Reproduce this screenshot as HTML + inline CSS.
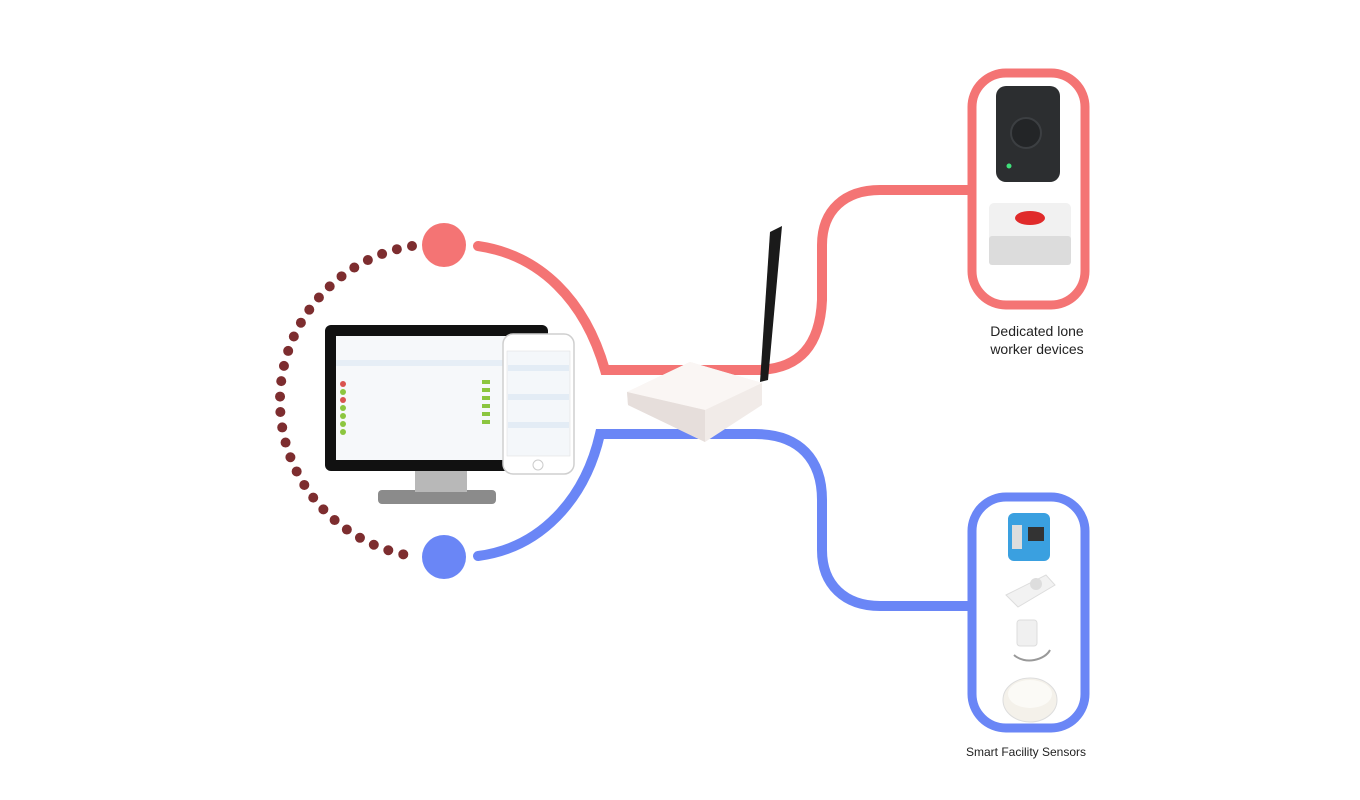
<!DOCTYPE html>
<html><head><meta charset="utf-8"><style>
html,body{margin:0;padding:0;background:#fff;width:1360px;height:800px;overflow:hidden}
</style></head><body>
<svg width="1360" height="800" viewBox="0 0 1360 800" xmlns="http://www.w3.org/2000/svg" font-family="Liberation Sans, sans-serif">
<!-- dotted arc -->
<path d="M412,246 A157,157 0 0 0 412,556" fill="none" stroke="#7d2d2f" stroke-width="10" stroke-linecap="round" stroke-dasharray="0 15.5"/>
<!-- red line -->
<path d="M478,246 C540,255 585,300 605,370 L755,370 C800,370 820,345 822,300 L822,245 C822,210 845,190 880,190 L970,190" fill="none" stroke="#f47474" stroke-width="10" stroke-linecap="round"/>
<!-- blue line -->
<path d="M478,556 C540,548 585,500 600,434 L755,434 C800,434 822,460 822,500 L822,550 C822,585 845,606 880,606 L970,606" fill="none" stroke="#6a86f6" stroke-width="10" stroke-linecap="round"/>
<circle cx="444" cy="245" r="22" fill="#f47474"/>
<circle cx="444" cy="557" r="22" fill="#6a86f6"/>
<!-- boxes -->
<rect x="972" y="73" width="113" height="232" rx="34" fill="#fff" stroke="#f47474" stroke-width="9"/>
<rect x="972" y="497" width="113" height="231" rx="34" fill="#fff" stroke="#6a86f6" stroke-width="9"/>
<!-- lone worker devices -->
<rect x="996" y="86" width="64" height="96" rx="10" fill="#2c2e30"/>
<circle cx="1026" cy="133" r="15" fill="#232527" stroke="#3c3f42" stroke-width="2"/>
<circle cx="1009" cy="166" r="2.5" fill="#3fe07a"/>
<rect x="989" y="203" width="82" height="62" rx="5" fill="#f1f1f1"/>
<rect x="989" y="236" width="82" height="29" rx="3" fill="#dcdcdc"/>
<ellipse cx="1030" cy="218" rx="15" ry="7" fill="#e02a2a"/>
<!-- sensors -->
<rect x="1008" y="513" width="42" height="48" rx="6" fill="#3aa0e0"/>
<rect x="1012" y="525" width="10" height="24" fill="#ddd"/>
<rect x="1028" y="527" width="16" height="14" fill="#333"/>
<path d="M1006,595 L1046,575 L1055,585 L1018,607 Z" fill="#f2f2f2" stroke="#ddd"/>
<circle cx="1036" cy="584" r="6" fill="#ddd"/>
<rect x="1017" y="620" width="20" height="26" rx="3" fill="#f0f0f0" stroke="#ddd"/>
<path d="M1014,655 C1025,665 1045,660 1050,650" fill="none" stroke="#999" stroke-width="2"/>
<ellipse cx="1030" cy="700" rx="27" ry="22" fill="#f4f1ea" stroke="#ddd"/>
<ellipse cx="1030" cy="694" rx="22" ry="14" fill="#fbfaf6"/>
<!-- labels -->
<text x="1037" y="336" font-size="14" text-anchor="middle" fill="#222">Dedicated lone</text>
<text x="1037" y="354" font-size="14" text-anchor="middle" fill="#222">worker devices</text>
<text x="1026" y="756" font-size="12" text-anchor="middle" fill="#222">Smart Facility Sensors</text>
<!-- monitor -->
<rect x="378" y="490" width="118" height="14" rx="4" fill="#8b8b8b"/>
<rect x="415" y="470" width="52" height="22" fill="#b8b8b8"/>
<rect x="325" y="325" width="223" height="146" rx="6" fill="#111"/>
<rect x="336" y="336" width="204" height="124" fill="#f6f8fa"/>
<rect x="336" y="360" width="204" height="6" fill="#e6eef6"/>
<g fill="#8cc63f">
<circle cx="343" cy="384" r="3" fill="#d9534f"/><circle cx="343" cy="392" r="3"/><circle cx="343" cy="400" r="3" fill="#d9534f"/><circle cx="343" cy="408" r="3"/><circle cx="343" cy="416" r="3"/><circle cx="343" cy="424" r="3"/><circle cx="343" cy="432" r="3"/>
<rect x="482" y="380" width="8" height="4"/><rect x="482" y="388" width="8" height="4"/><rect x="482" y="396" width="8" height="4"/><rect x="482" y="404" width="8" height="4"/><rect x="482" y="412" width="8" height="4"/><rect x="482" y="420" width="8" height="4"/>
</g>
<!-- phone -->
<rect x="503" y="334" width="71" height="140" rx="10" fill="#fff" stroke="#cfcfcf" stroke-width="1.5"/>
<rect x="507" y="351" width="63" height="105" fill="#f4f7fa" stroke="#ddd" stroke-width="0.5"/>
<rect x="508" y="365" width="61" height="6" fill="#e3ecf5"/>
<rect x="508" y="394" width="61" height="6" fill="#e3ecf5"/>
<rect x="508" y="422" width="61" height="6" fill="#e3ecf5"/>
<circle cx="538" cy="465" r="5" fill="none" stroke="#ccc"/>
<!-- router -->
<path d="M770,232 L782,226 L768,380 L760,382 Z" fill="#1a1a1a"/>
<path d="M627,392 L690,362 L762,383 L762,405 L705,442 L628,405 Z" fill="#f1ebe8"/>
<path d="M627,392 L690,362 L762,383 L705,410 Z" fill="#faf6f4"/>
<path d="M627,392 L705,410 L705,442 L628,405 Z" fill="#e6dedb"/>
</svg>
</body></html>
